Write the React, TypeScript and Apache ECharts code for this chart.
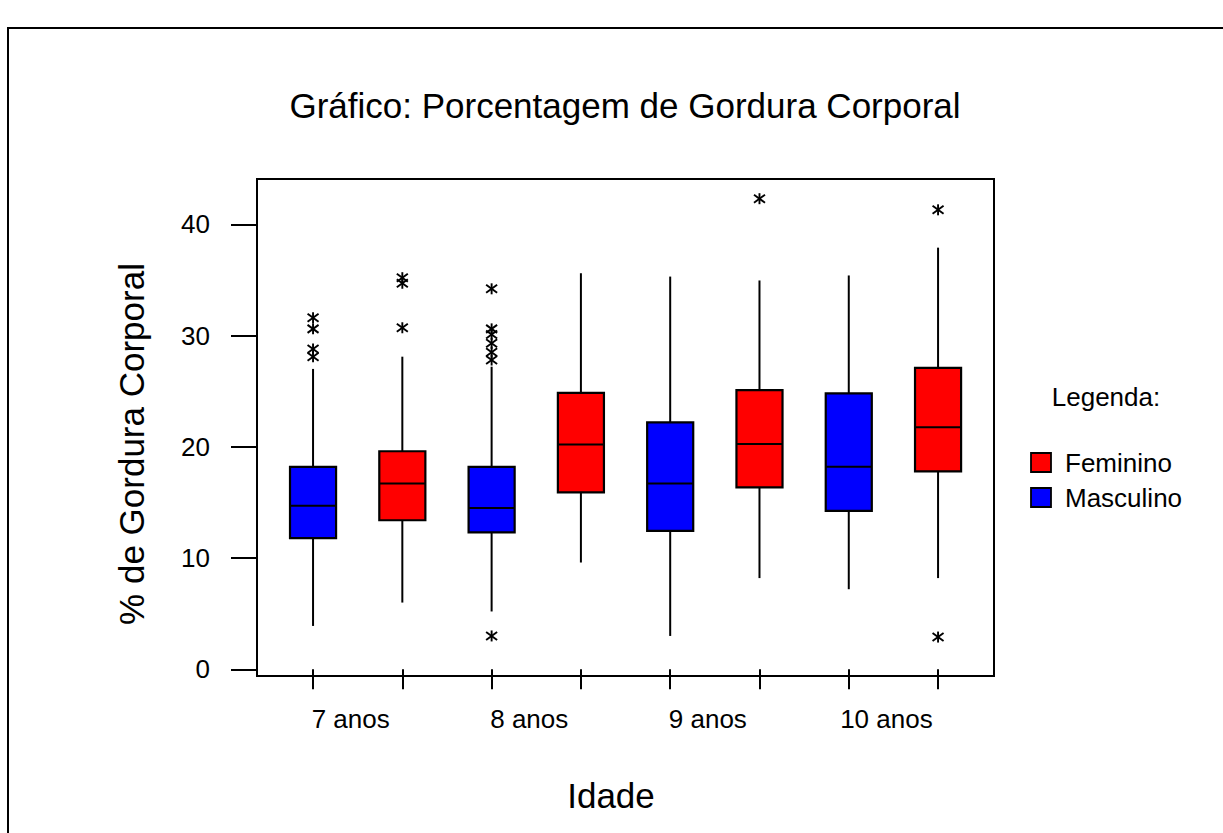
import React, { useEffect, useRef } from "react";
import * as echarts from "echarts";

// ---- Data ----
const boxCategories = [
  "7 anos Masculino",
  "7 anos Feminino",
  "8 anos Masculino",
  "8 anos Feminino",
  "9 anos Masculino",
  "9 anos Feminino",
  "10 anos Masculino",
  "10 anos Feminino",
];
const boxGender = ["Masculino", "Feminino", "Masculino", "Feminino", "Masculino", "Feminino", "Masculino", "Feminino"];
const ageLabels = ["7 anos", "8 anos", "9 anos", "10 anos"];

const whiskerLow = [3.9, 6.0, 5.2, 9.6, 3.0, 8.2, 7.2, 8.2];
const q1Values = [11.8, 13.4, 12.3, 15.9, 12.45, 16.35, 14.25, 17.8];
const medianValues = [14.7, 16.7, 14.5, 20.2, 16.7, 20.25, 18.2, 21.75];
const q3Values = [18.2, 19.6, 18.2, 24.85, 22.2, 25.1, 24.8, 27.1];
const whiskerHigh = [27.0, 28.1, 27.2, 35.6, 35.3, 34.95, 35.4, 37.9];

const outliers: number[][] = [
  [31.6, 30.6, 28.8, 28.1],
  [35.2, 34.7, 30.7],
  [34.2, 30.6, 30.1, 29.3, 28.5, 27.8, 3.0],
  [],
  [],
  [42.3],
  [],
  [41.3, 2.9],
];

const yTicks = [0, 10, 20, 30, 40];
const legendNames = ["Feminino", "Masculino"];

const genderColor: Record<string, string> = {
  Feminino: "#ff0000",
  Masculino: "#0000ff",
};

const FONT = "'Liberation Sans', Arial, Helvetica, sans-serif";

export default function App() {
  const ref = useRef<HTMLDivElement>(null);

  useEffect(() => {
    if (!ref.current) return;
    const chart = echarts.init(ref.current, null, { renderer: "svg" });

    const boxData = boxCategories.map((_, i) => [
      i,
      whiskerLow[i],
      q1Values[i],
      medianValues[i],
      q3Values[i],
      whiskerHigh[i],
    ]);
    const outlierData: number[][] = [];
    outliers.forEach((list, i) => list.forEach((v) => outlierData.push([i, v])));

    const stroke = { stroke: "#000", lineWidth: 2 };
    const starStroke = { stroke: "#000", lineWidth: 1.9 };

    const option: any = {
      animation: false,
      backgroundColor: "#fff",
      textStyle: { fontFamily: FONT },
      grid: { left: 268.4, right: 240.3, top: 179, bottom: 157, containLabel: false },
      xAxis: [
        {
          type: "category",
          data: boxCategories,
          position: "bottom",
          axisLine: { show: false },
          axisTick: {
            show: true,
            alignWithLabel: true,
            interval: 0,
            length: 20,
            lineStyle: { color: "#000", width: 2 },
          },
          axisLabel: { show: false },
          splitLine: { show: false },
        },
        {
          type: "category",
          data: ageLabels,
          position: "bottom",
          axisLine: { show: false },
          axisTick: { show: false },
          axisLabel: {
            show: true,
            interval: 0,
            margin: 30,
            fontSize: 26,
            color: "#000",
            fontFamily: FONT,
            padding: [0, 14, 0, 0],
          },
          splitLine: { show: false },
        },
      ],
      yAxis: {
        type: "value",
        min: -0.6,
        max: 44.07,
        offset: 11.4,
        splitLine: { show: false },
        axisLine: { show: true, lineStyle: { color: "#000", width: 2 } },
        axisTick: {
          show: true,
          length: 26,
          customValues: yTicks,
          lineStyle: { color: "#000", width: 2 },
        },
        axisLabel: {
          show: true,
          customValues: yTicks,
          margin: 47,
          fontSize: 26,
          color: "#000",
          fontFamily: FONT,
        },
      },
      series: [
        {
          type: "custom",
          name: "Boxes",
          xAxisIndex: 0,
          data: boxData,
          encode: { x: 0, y: [1, 2, 3, 4, 5] },
          renderItem: (params: any, api: any) => {
            const idx = api.value(0);
            const lo = api.coord([idx, api.value(1)]);
            const q1 = api.coord([idx, api.value(2)]);
            const med = api.coord([idx, api.value(3)]);
            const q3 = api.coord([idx, api.value(4)]);
            const hi = api.coord([idx, api.value(5)]);
            const band = api.size([1, 0])[0];
            const half = band * 0.258;
            const color = genderColor[boxGender[params.dataIndex]];
            return {
              type: "group",
              children: [
                { type: "line", shape: { x1: lo[0], y1: lo[1], x2: q1[0], y2: q1[1] }, style: stroke },
                { type: "line", shape: { x1: q3[0], y1: q3[1], x2: hi[0], y2: hi[1] }, style: stroke },
                {
                  type: "rect",
                  shape: { x: q3[0] - half, y: q3[1], width: half * 2, height: q1[1] - q3[1] },
                  style: { fill: color, stroke: "#000", lineWidth: 2.2 },
                },
                {
                  type: "line",
                  shape: { x1: med[0] - half, y1: med[1], x2: med[0] + half, y2: med[1] },
                  style: stroke,
                },
              ],
            };
          },
        },
        {
          type: "custom",
          name: "Outliers",
          xAxisIndex: 0,
          data: outlierData,
          encode: { x: 0, y: 1 },
          renderItem: (params: any, api: any) => {
            const p = api.coord([api.value(0), api.value(1)]);
            const [cx, cy] = p;
            return {
              type: "group",
              children: [
                { type: "line", shape: { x1: cx, y1: cy - 5.5, x2: cx, y2: cy + 5.5 }, style: starStroke },
                { type: "line", shape: { x1: cx - 5.5, y1: cy - 4, x2: cx + 5.5, y2: cy + 4 }, style: starStroke },
                { type: "line", shape: { x1: cx - 5.5, y1: cy + 4, x2: cx + 5.5, y2: cy - 4 }, style: starStroke },
              ],
            };
          },
        },
      ],
      graphic: [
        {
          type: "rect",
          shape: { x: 8, y: 28, width: 1260, height: 860 },
          style: { fill: "none", stroke: "#000", lineWidth: 2 },
          silent: true,
        },
        {
          type: "rect",
          shape: { x: 257, y: 179, width: 737, height: 497 },
          style: { fill: "none", stroke: "#000", lineWidth: 2 },
          silent: true,
          z: 10,
        },
        {
          type: "text",
          x: 625,
          y: 105,
          style: {
            text: "Gráfico: Porcentagem de Gordura Corporal",
            fontSize: 35,
            fontFamily: FONT,
            fill: "#000",
            align: "center",
            verticalAlign: "middle",
          },
        },
        {
          type: "text",
          x: 131,
          y: 444,
          rotation: Math.PI / 2,
          style: {
            text: "% de Gordura Corporal",
            fontSize: 35,
            fontFamily: FONT,
            fill: "#000",
            align: "center",
            verticalAlign: "middle",
          },
        },
        {
          type: "text",
          x: 611,
          y: 795,
          style: {
            text: "Idade",
            fontSize: 35,
            fontFamily: FONT,
            fill: "#000",
            align: "center",
            verticalAlign: "middle",
          },
        },
        {
          type: "text",
          x: 1106,
          y: 397,
          style: {
            text: "Legenda:",
            fontSize: 26,
            fontFamily: FONT,
            fill: "#000",
            align: "center",
            verticalAlign: "middle",
          },
        },
        ...legendNames.flatMap((name, i) => [
          {
            type: "rect",
            shape: { x: 1031, y: 453 + i * 35, width: 20, height: 19 },
            style: { fill: genderColor[name], stroke: "#000", lineWidth: 1.8 },
          },
          {
            type: "text",
            x: 1065,
            y: 463 + i * 35,
            style: {
              text: name,
              fontSize: 26,
              fontFamily: FONT,
              fill: "#000",
              align: "left",
              verticalAlign: "middle",
            },
          },
        ]),
      ],
    };

    chart.setOption(option);
    return () => chart.dispose();
  }, []);

  return (
    <div
      ref={ref}
      style={{ position: "absolute", left: 0, top: 0, width: 1223, height: 833, background: "#fff" }}
    />
  );
}
